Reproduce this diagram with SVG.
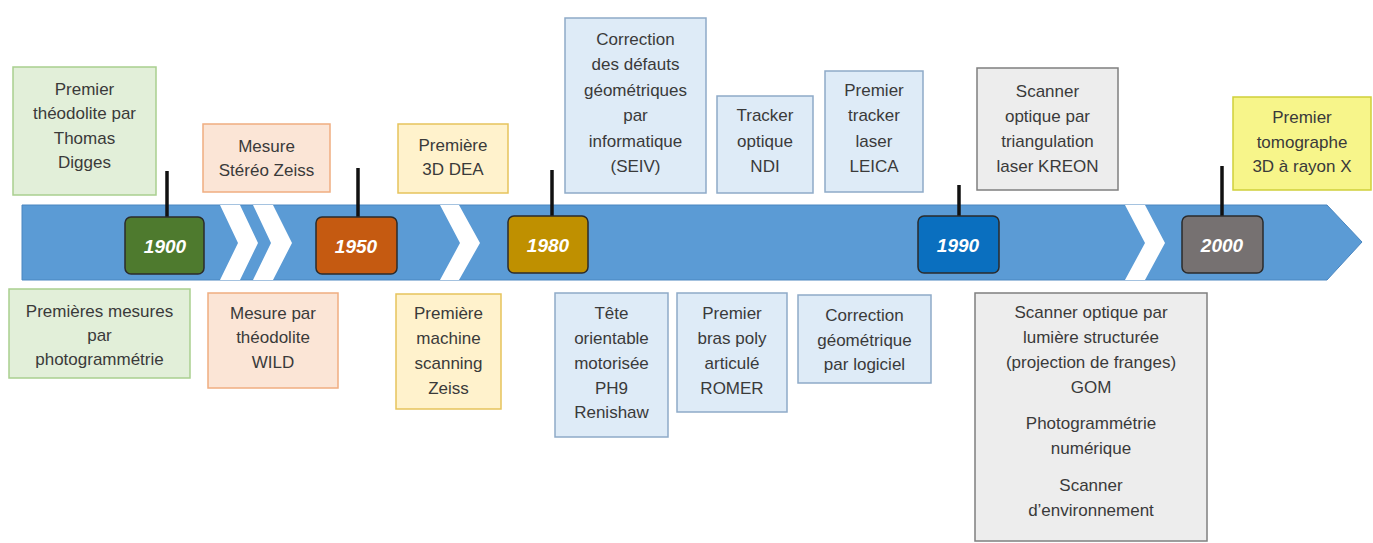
<svg xmlns="http://www.w3.org/2000/svg" width="1373" height="543" viewBox="0 0 1373 543">
<style>
.t{font-family:"Liberation Sans",Arial,sans-serif;font-size:17px;fill:#3a3a3a;text-anchor:middle;dominant-baseline:central}
.y{font-family:"Liberation Sans",Arial,sans-serif;font-size:19px;font-style:italic;font-weight:bold;fill:#ffffff;text-anchor:middle;dominant-baseline:central}
.yb{stroke:#2b2b2b;stroke-width:1.5}
.g{fill:#e2efd9;stroke:#a9cf8f;stroke-width:1.5}
.o{fill:#fbe5d6;stroke:#f0ad80;stroke-width:1.5}
.a{fill:#fff2cc;stroke:#e6c35c;stroke-width:1.5}
.b{fill:#deebf7;stroke:#8eaac8;stroke-width:1.5}
.s{fill:#ededed;stroke:#7f7f7f;stroke-width:1.5}
.x{fill:#f7f58a;stroke:#cfcf3a;stroke-width:1.5}
.c{stroke:#111;stroke-width:3.5;fill:none}
.v{fill:#ffffff}
</style>
<rect width="1373" height="543" fill="#ffffff"/>
<g id="timeline">
<path d="M22,205 H1327 L1362,242 L1327,280 H22 Z" fill="#5b9bd5" stroke="#4a86c0" stroke-width="1"/>
<path class="v" d="M220,205 H240 L258,243 L240,280 H220 L238,243 Z"/>
<path class="v" d="M253,205 H273 L292,243 L273,280 H253 L271,243 Z"/>
<path class="v" d="M440,205 H459 L480,243 L459,280 H440 L460,243 Z"/>
<path class="v" d="M1125,205 H1145 L1165,243 L1145,280 H1125 L1145,243 Z"/>
</g>
<g id="connectors">
<line class="c" x1="167" y1="171" x2="167" y2="217"/>
<line class="c" x1="358" y1="168" x2="358" y2="217"/>
<line class="c" x1="552" y1="170" x2="552" y2="216"/>
<line class="c" x1="959" y1="185" x2="959" y2="216"/>
<line class="c" x1="1222" y1="166" x2="1222" y2="216"/>
</g>
<g id="y1900"><rect class="yb" x="125" y="217" width="79" height="57" rx="6" fill="#4e7a2e"/><text class="y" x="165" y="246">1900</text></g>
<g id="y1950"><rect class="yb" x="316" y="217" width="81" height="57" rx="6" fill="#c55a11"/><text class="y" x="356" y="246">1950</text></g>
<g id="y1980"><rect class="yb" x="508" y="216" width="80" height="57" rx="6" fill="#bf9000"/><text class="y" x="548" y="245">1980</text></g>
<g id="y1990"><rect class="yb" x="918" y="216" width="81" height="57" rx="6" fill="#0a6fbf"/><text class="y" x="958" y="245">1990</text></g>
<g id="y2000"><rect class="yb" x="1182" y="216" width="81" height="57" rx="6" fill="#767171"/><text class="y" x="1222" y="245">2000</text></g>

<g id="n1"><rect class="g" x="13" y="67" width="143" height="128"/>
<text class="t" x="84.5" y="89">Premier</text><text class="t" x="84.5" y="113.5">théodolite par</text><text class="t" x="84.5" y="138">Thomas</text><text class="t" x="84.5" y="162.5">Digges</text></g>
<g id="n2"><rect class="o" x="203" y="124" width="127" height="68"/>
<text class="t" x="266.5" y="146">Mesure</text><text class="t" x="266.5" y="170.5">Stéréo Zeiss</text></g>
<g id="n3"><rect class="a" x="398" y="124" width="110" height="69"/>
<text class="t" x="453" y="145">Première</text><text class="t" x="453" y="169.5">3D DEA</text></g>
<g id="n4"><rect class="b" x="565" y="18" width="141" height="175"/>
<text class="t" x="635.5" y="39">Correction</text><text class="t" x="635.5" y="64.5">des défauts</text><text class="t" x="635.5" y="90">géométriques</text><text class="t" x="635.5" y="115.5">par</text><text class="t" x="635.5" y="141">informatique</text><text class="t" x="635.5" y="166.5">(SEIV)</text></g>
<g id="n5"><rect class="b" x="717" y="96" width="96" height="97"/>
<text class="t" x="765" y="115.5">Tracker</text><text class="t" x="765" y="141">optique</text><text class="t" x="765" y="166.5">NDI</text></g>
<g id="n6"><rect class="b" x="825" y="71" width="98" height="121"/>
<text class="t" x="874" y="90">Premier</text><text class="t" x="874" y="115.5">tracker</text><text class="t" x="874" y="141">laser</text><text class="t" x="874" y="166.5">LEICA</text></g>
<g id="n7"><rect class="s" x="977" y="68" width="141" height="122"/>
<text class="t" x="1047.5" y="91">Scanner</text><text class="t" x="1047.5" y="116">optique par</text><text class="t" x="1047.5" y="141">triangulation</text><text class="t" x="1047.5" y="166">laser KREON</text></g>
<g id="n8"><rect class="x" x="1233" y="97" width="138" height="93"/>
<text class="t" x="1302" y="117">Premier</text><text class="t" x="1302" y="142">tomographe</text><text class="t" x="1302" y="166.5">3D à rayon X</text></g>

<g id="n9"><rect class="g" x="9" y="289" width="181" height="89"/>
<text class="t" x="99.5" y="311">Premières mesures</text><text class="t" x="99.5" y="335">par</text><text class="t" x="99.5" y="359.5">photogrammétrie</text></g>
<g id="n10"><rect class="o" x="208" y="293" width="130" height="95"/>
<text class="t" x="273" y="313">Mesure par</text><text class="t" x="273" y="337.5">théodolite</text><text class="t" x="273" y="362">WILD</text></g>
<g id="n11"><rect class="a" x="396" y="294" width="105" height="115"/>
<text class="t" x="448.5" y="313">Première</text><text class="t" x="448.5" y="338">machine</text><text class="t" x="448.5" y="363">scanning</text><text class="t" x="448.5" y="388">Zeiss</text></g>
<g id="n12"><rect class="b" x="555" y="293" width="113" height="144"/>
<text class="t" x="611.5" y="313">Tête</text><text class="t" x="611.5" y="338">orientable</text><text class="t" x="611.5" y="363">motorisée</text><text class="t" x="611.5" y="388">PH9</text><text class="t" x="611.5" y="412.5">Renishaw</text></g>
<g id="n13"><rect class="b" x="677" y="293" width="110" height="119"/>
<text class="t" x="732" y="313">Premier</text><text class="t" x="732" y="338">bras poly</text><text class="t" x="732" y="363">articulé</text><text class="t" x="732" y="388">ROMER</text></g>
<g id="n14"><rect class="b" x="798" y="295" width="133" height="88"/>
<text class="t" x="864.5" y="315">Correction</text><text class="t" x="864.5" y="340">géométrique</text><text class="t" x="864.5" y="364.5">par logiciel</text></g>
<g id="n15"><rect class="s" x="975" y="293" width="232" height="248"/>
<text class="t" x="1091" y="312">Scanner optique par</text><text class="t" x="1091" y="337.5">lumière structurée</text><text class="t" x="1091" y="362.5">(projection de franges)</text><text class="t" x="1091" y="387">GOM</text>
<text class="t" x="1091" y="423">Photogrammétrie</text><text class="t" x="1091" y="448">numérique</text>
<text class="t" x="1091" y="485">Scanner</text><text class="t" x="1091" y="510">d’environnement</text></g>
</svg>
